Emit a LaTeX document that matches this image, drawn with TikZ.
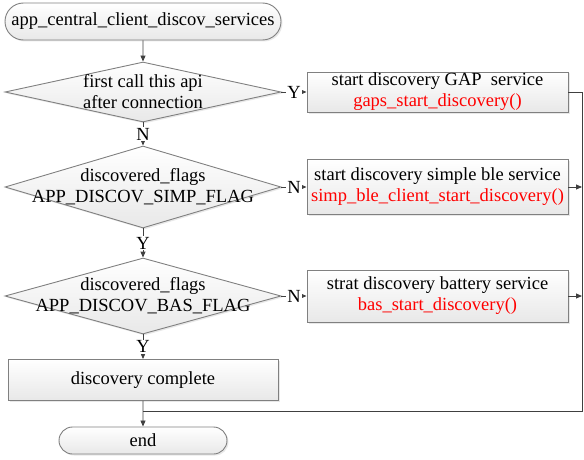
\documentclass[tikz,border=0pt]{standalone}
\usepackage{fontspec}
\setmainfont{Liberation Serif}
\usetikzlibrary{arrows.meta,positioning,shapes.geometric,shapes.misc,shadows}

\definecolor{linegray}{HTML}{404040}
\definecolor{bordergray}{HTML}{808080}

\begin{document}
\begin{tikzpicture}[
  x=1pt, y=-1pt,
  font=\fontsize{18.5}{21}\selectfont,
  shapebase/.style={draw=bordergray, line width=0.9pt, top color=white,
    bottom color=black!9,
    drop shadow={shadow xshift=1.5pt, shadow yshift=-1.5pt, opacity=0.18}},
  terminal/.style={shapebase, rounded rectangle, inner sep=0pt},
  procbox/.style={shapebase, align=center, inner sep=0pt},
  decision/.style={shapebase, diamond, inner sep=0pt, minimum width=276pt},
  arrow/.style={-{Triangle[length=6pt,width=5pt]}, draw=linegray, line width=0.9pt},
  link/.style={draw=linegray, line width=0.9pt},
  tag/.style={fill=white, inner sep=1pt}
]
\useasboundingbox (0,0) rectangle (584,460);

% main column
\node[terminal, minimum width=276pt, minimum height=37pt] (start) at (143,21.5)
  {app\_central\_client\_discov\_services};
\node[decision, minimum height=60pt,
  label={[align=center]center:first call this api\\after connection}] (firstcall) at (143,92) {};
\node[decision, minimum height=82pt,
  label={[align=center]center:discovered\_flags\\APP\_DISCOV\_SIMP\_FLAG}] (simpflag) at (143,187) {};
\node[decision, minimum height=76pt,
  label={[align=center]center:discovered\_flags\\APP\_DISCOV\_BAS\_FLAG}] (basflag) at (143,296) {};
\node[procbox, minimum width=270pt, minimum height=41pt] (donebox) at (143,380)
  {discovery complete};
\node[terminal, minimum width=168pt, minimum height=27pt] (stop) at (143,440.5) {end};

% service boxes
\node[procbox, minimum width=261pt, minimum height=40pt] (gapbox) at (437.5,92)
  {start discovery GAP~ service\\\textcolor{red}{gaps\_start\_discovery()}};
\node[procbox, minimum width=261pt, minimum height=55pt] (simpbox) at (437.5,187)
  {start discovery simple ble service\\\textcolor{red}{simp\_ble\_client\_start\_discovery()}};
\node[procbox, minimum width=261pt, minimum height=52pt] (basbox) at (437.5,296)
  {strat discovery battery service\\\textcolor{red}{bas\_start\_discovery()}};

\coordinate (rail) at (582,411);
\coordinate (merge) at (143,411);

\draw[arrow] (start) -- (firstcall);
\draw[arrow] (firstcall) -- node[tag]{Y} (gapbox);
\draw[arrow] (firstcall) -- node[tag]{N} (simpflag);
\draw[arrow] (simpflag) -- node[tag]{N} (simpbox);
\draw[arrow] (simpflag) -- node[tag]{Y} (basflag);
\draw[arrow] (basflag) -- node[tag]{N} (basbox);
\draw[arrow] (basflag) -- node[tag]{Y} (donebox);
\draw[arrow] (donebox) -- (stop);

% return rail
\draw[link] (gapbox.east) -| (rail) -- (merge);
\draw[arrow] (simpbox.east) -- (simpbox.east -| rail);
\draw[arrow] (basbox.east) -- (basbox.east -| rail);
\end{tikzpicture}
\end{document}
